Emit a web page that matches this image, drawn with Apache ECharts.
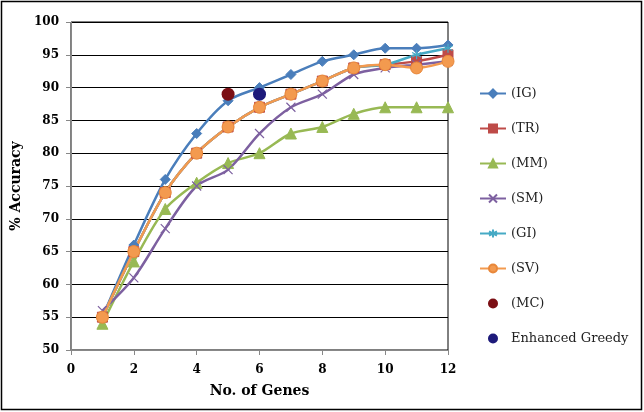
<!DOCTYPE html>
<html>
<head>
<meta charset="utf-8">
<script src="https://cdn.jsdelivr.net/npm/echarts@6/dist/echarts.min.js"></script>
<style>
  html, body { margin: 0; padding: 0; background: #fff; }
  #chart { width: 644px; height: 412px; }
</style>
</head>
<body>
<div id="chart"></div>
<script>
// 基因数 (x)
const genes = [1, 2, 3, 4, 5, 6, 7, 8, 9, 10, 11, 12];
// 各方法的准确率
const igAcc = [55, 66, 76, 83, 88, 90, 92, 94, 95, 96, 96, 96.5];
const trAcc = [55, 65, 74, 80, 84, 87, 89, 91, 93, 93.5, 94, 95];
const mmAcc = [54, 63.5, 71.5, 75.5, 78.5, 80, 83, 84, 86, 87, 87, 87];
const smAcc = [56, 61, 68.5, 75, 77.5, 83, 87, 89, 92, 93, 93.5, 94];
const giAcc = [55, 65, 74, 80, 84, 87, 89, 91, 93, 93.5, 95, 96];
const svAcc = [55, 65, 74, 80, 84, 87, 89, 91, 93, 93.5, 93, 94];
// 单点
const mcPoint = [[5, 89]];
const egPoint = [[6, 89]];
const seriesNames = ['(IG)', '(TR)', '(MM)', '(SM)', '(GI)', '(SV)', '(MC)', 'Enhanced Greedy'];

const serif = 'DejaVu Serif';
const crossPath = 'path://M0,0L10,10M10,0L0,10';
const starPath = 'path://M5,0L5,10M0,2.5L10,7.5M10,2.5L0,7.5';

function pairs(arr) {
  return genes.map((g, i) => [g, arr[i]]);
}

function lineSeries(name, data, color, symbol, size, extra = {}) {
  return Object.assign({
    name,
    type: 'line',
    data: pairs(data),
    smooth: 0.3,
    symbol,
    symbolSize: size,
    showAllSymbol: true,
    lineStyle: { width: 2.5, color },
    itemStyle: { color, borderColor: color, borderWidth: 1 },
    emphasis: { disabled: true },
  }, extra);
}

function dotSeries(name, data, color) {
  return {
    name, type: 'scatter', data, symbol: 'circle', symbolSize: 13,
    itemStyle: { color, opacity: 1 }, z: 5,
    emphasis: { disabled: true },
  };
}

const chart = echarts.init(document.getElementById('chart'));
chart.setOption({
  animation: false,
  backgroundColor: '#fff',
  graphic: [{
    type: 'rect',
    shape: { x: 1.5, y: 1.5, width: 640, height: 408 },
    style: { fill: 'none', stroke: '#000', lineWidth: 1.5 },
    z: 100,
  }],
  grid: {
    left: 71, right: 196, top: 22, bottom: 62,
    show: true, borderColor: '#000', borderWidth: 1,
  },
  legend: {
    orient: 'vertical',
    left: 474, top: 82,
    itemWidth: 26, itemHeight: 10, itemGap: 22,
    textStyle: { fontFamily: serif, fontSize: 13, color: '#222' },
    data: seriesNames,
  },
  xAxis: {
    type: 'value', min: 0, max: 12, interval: 2,
    name: 'No. of Genes', nameLocation: 'middle', nameGap: 34,
    nameTextStyle: { fontFamily: serif, fontWeight: 'bold', fontSize: 14, color: '#000' },
    axisLine: { lineStyle: { color: '#888' } },
    axisTick: { inside: false, length: 5, lineStyle: { color: '#888' } },
    axisLabel: { fontFamily: serif, fontWeight: 'bold', fontSize: 12, color: '#000', margin: 14 },
    splitLine: { show: false },
  },
  yAxis: {
    type: 'value', min: 50, max: 100, interval: 5,
    name: '% Accuracy', nameLocation: 'middle', nameGap: 48,
    nameTextStyle: { fontFamily: serif, fontWeight: 'bold', fontSize: 14, color: '#000' },
    axisLine: { show: true, lineStyle: { color: '#888' } },
    axisTick: { show: true, length: 5, lineStyle: { color: '#888' } },
    axisLabel: { fontFamily: serif, fontWeight: 'bold', fontSize: 12, color: '#000', margin: 12 },
    splitLine: { show: true, lineStyle: { color: '#000', width: 1 } },
  },
  series: [
    lineSeries('(IG)', igAcc, '#4a7ebb', 'diamond', 10),
    lineSeries('(TR)', trAcc, '#be4b48', 'rect', 10),
    lineSeries('(MM)', mmAcc, '#98b954', 'triangle', 11),
    lineSeries('(SM)', smAcc, '#7d60a0', crossPath, 9, {
      itemStyle: { color: 'none', borderColor: '#7d60a0', borderWidth: 1.2 },
    }),
    lineSeries('(GI)', giAcc, '#46aac5', starPath, 9, {
      itemStyle: { color: 'none', borderColor: '#46aac5', borderWidth: 1.2 },
    }),
    lineSeries('(SV)', svAcc, '#f39a4f', 'circle', 12, {
      itemStyle: { color: '#f39a4f', borderColor: '#e8873a', borderWidth: 1 },
    }),
    dotSeries('(MC)', mcPoint, '#7b0f14'),
    dotSeries('Enhanced Greedy', egPoint, '#1d1a7a'),
  ],
});
</script>
</body>
</html>
